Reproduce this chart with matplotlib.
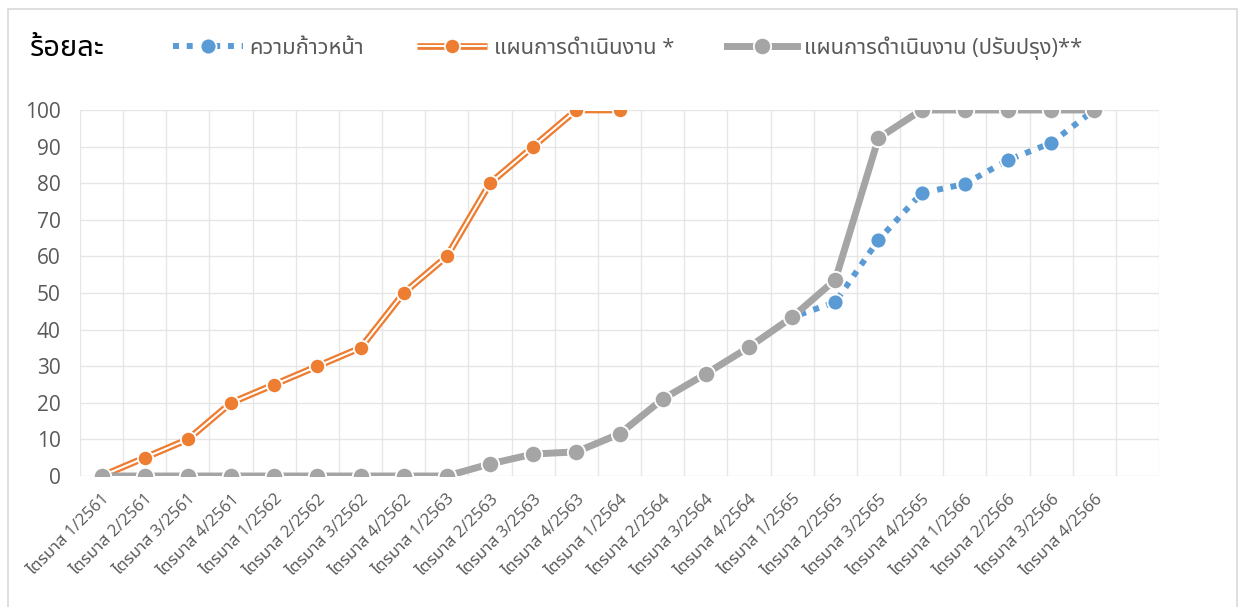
import matplotlib
matplotlib.use('Agg')
from matplotlib import pyplot as plt
from matplotlib.lines import Line2D
from matplotlib.patches import Rectangle
from matplotlib.legend_handler import HandlerTuple
from matplotlib.transforms import ScaledTranslation

plt.rcParams['font.family'] = ['Open Sans', 'Noto Sans Thai', 'Sarabun', 'Prompt', 'DejaVu Sans']

quarters = ['ไตรมาส %d/%d' % (q, y) for y in range(2561, 2567) for q in range(1, 5)]
labels = quarters + ['']

# ร้อยละ
progress = [0, 0, 0, 0, 0, 0, 0, 0, 0, 3.3, 6.0, 6.6, 11.5, 21.0, 27.9, 35.2, 43.4,
            47.5, 64.5, 77.3, 79.8, 86.3, 91.0, 100]
plan = [0, 5, 10, 20, 25, 30, 35, 50, 60, 80, 90, 100, 100]
plan_rev = [0, 0, 0, 0, 0, 0, 0, 0, 0, 3.3, 6.0, 6.6, 11.5, 21.0, 27.9, 35.2, 43.4,
            53.6, 92.3, 100, 100, 100, 100, 100]

names = ['ความก้าวหน้า', 'แผนการดำเนินงาน *', 'แผนการดำเนินงาน (ปรับปรุง)**']
blue = '#5B9BD5'
orange = '#ED7D31'
gray = '#A5A5A5'
txt = '#595959'

fig = plt.figure(figsize=(12.38, 6.07), dpi=100)
fig.patches.append(Rectangle((8 / 1238, -0.05), 1229 / 1238, 1.05 - 9 / 607,
                             transform=fig.transFigure, fill=False,
                             edgecolor='#d9d9d9', linewidth=1.2))
ax = fig.add_axes([80 / 1238, 1 - 476 / 607, 1079 / 1238, 366 / 607])

x1 = list(range(len(progress)))
x2 = list(range(len(plan)))
x3 = list(range(len(plan_rev)))

ax.plot(x1, progress, color=blue, linewidth=4.3, linestyle=(0, (1, 1.3)),
        dash_capstyle='butt', marker='o', markersize=11.5,
        markerfacecolor=blue, markeredgecolor='white', markeredgewidth=1.3, zorder=3)
ax.plot(x2, plan, color=orange, linewidth=4.8, solid_capstyle='butt', zorder=4)
ax.plot(x2, plan, color='white', linewidth=1.5, solid_capstyle='butt', zorder=4)
ax.plot(x2, plan, linestyle='none', marker='o', markersize=11,
        markerfacecolor=orange, markeredgecolor='white', markeredgewidth=1.3, zorder=4)
ax.plot(x3, plan_rev, color=gray, linewidth=5, marker='o', markersize=12.5,
        markerfacecolor=gray, markeredgecolor='white', markeredgewidth=1.3, zorder=5)

ax.set_xlim(-0.5, len(labels) - 0.5)
ax.set_ylim(0, 100)
ax.set_yticks(range(0, 101, 10))
ax.set_xticks(range(len(labels)))
ax.set_xticks([i - 0.5 for i in range(len(labels) + 1)], minor=True)
ax.set_xticklabels(labels, rotation=45, ha='right', va='top',
                   rotation_mode='anchor', fontsize=12, color=txt)
shift = ScaledTranslation(-9 / 100, -3 / 100, fig.dpi_scale_trans)
for lab in ax.get_xticklabels():
    lab.set_transform(lab.get_transform() + shift)
ax.tick_params(axis='x', which='both', length=0, pad=11)
ax.tick_params(axis='y', length=0, pad=14, labelsize=15, labelcolor=txt)
ax.grid(axis='y', color='#e6e6e6', linewidth=1)
ax.grid(axis='x', which='minor', color='#e6e6e6', linewidth=1)
ax.grid(axis='x', which='major', visible=False)
for s in ax.spines.values():
    s.set_visible(False)
ax.set_axisbelow(True)

fig.text(30 / 1238, 1 - 48 / 607, 'ร้อยละ', fontsize=21, fontweight='bold',
         color='black', va='center', ha='left')

h1 = Line2D([], [], color=blue, linewidth=4.3, linestyle=(0, (1, 1.3)),
            dash_capstyle='butt', marker='o', markersize=11.5,
            markerfacecolor=blue, markeredgecolor='white', markeredgewidth=1.3)
h2a = Line2D([], [], color=orange, linewidth=4.8, solid_capstyle='butt')
h2b = Line2D([], [], color='white', linewidth=1.5, solid_capstyle='butt')
h2c = Line2D([], [], linestyle='none', marker='o', markersize=11,
             markerfacecolor=orange, markeredgecolor='white', markeredgewidth=1.3)
h3 = Line2D([], [], color=gray, linewidth=5, marker='o', markersize=12.5,
            markerfacecolor=gray, markeredgecolor='white', markeredgewidth=1.3)
leg = fig.legend([h1, (h2a, h2b, h2c), h3], names, ncol=3,
                 loc='center left', bbox_to_anchor=(153 / 1238, 1 - 48 / 607),
                 frameon=False, fontsize=15.8, labelcolor=txt,
                 handlelength=3.2, handletextpad=0.3, columnspacing=2.4,
                 handler_map={tuple: HandlerTuple(ndivide=1, pad=0)})

plt.savefig('out.png', dpi=100)
